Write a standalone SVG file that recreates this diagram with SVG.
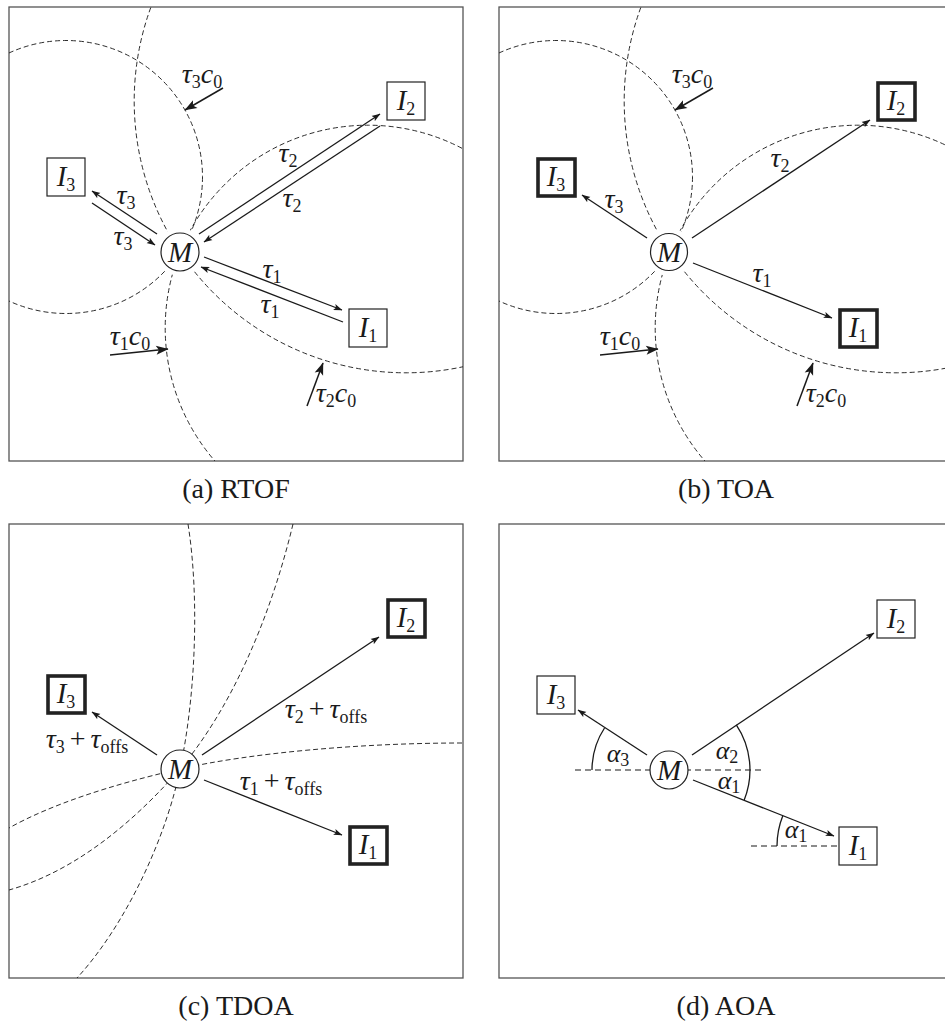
<svg xmlns="http://www.w3.org/2000/svg" width="945" height="1025" viewBox="0 0 945 1025">
  <style>
    .frame{fill:none;stroke:#555;stroke-width:1.3}
    .wave{fill:none;stroke:#222;stroke-width:0.95;stroke-dasharray:5 3}
    .ref{fill:none;stroke:#666;stroke-width:1.3;stroke-dasharray:6 4}
    .box{fill:#fff;stroke:#222;stroke-width:1.2}
    .bold{stroke-width:3.6}
    .mnode{fill:#fff;stroke:#222;stroke-width:1.2}
    .halo{fill:#fff;stroke:none}
    .link{fill:none;stroke:#1a1a1a;stroke-width:1.3;marker-end:url(#ah)}
    .range{fill:none;stroke:#1a1a1a;stroke-width:1.5;marker-end:url(#ahBig)}
    .angle{fill:none;stroke:#1a1a1a;stroke-width:1.3}
    .math{font-family:"Liberation Serif","Times New Roman",serif;font-style:italic;font-size:28px;fill:#1a1a1a}
    .nm{font-size:29px}
    .ang{font-size:26px}
    .sub{font-style:normal;font-size:18px}
    .up{font-style:normal}
    .cap{font-family:"Liberation Serif","Times New Roman",serif;font-size:28px;fill:#1a1a1a}
  </style>
  <defs>
    <marker id="ah" viewBox="0 0 10 8" refX="9.5" refY="4" markerWidth="9" markerHeight="7" markerUnits="userSpaceOnUse" orient="auto">
      <path d="M0,0.4 L10,4 L0,7.6 L2.2,4 z" fill="#1a1a1a"/>
    </marker>
    <marker id="ahBig" viewBox="0 0 10 8" refX="9.5" refY="4" markerWidth="13" markerHeight="10" markerUnits="userSpaceOnUse" orient="auto">
      <path d="M0,0.4 L10,4 L0,7.6 L2.2,4 z" fill="#1a1a1a"/>
    </marker>
    <clipPath id="clipA"><rect x="9" y="7" width="454" height="454"/></clipPath>
    <clipPath id="clipB"><rect x="499" y="7" width="454" height="454"/></clipPath>
    <clipPath id="clipC"><rect x="9" y="524" width="454" height="454"/></clipPath>
  </defs>

  <!-- ===== (a) RTOF ===== -->
  <g id="panel-a">
    <rect class="frame" x="9" y="7" width="454" height="454"/>
    <g id="a-ranges" clip-path="url(#clipA)">
      <circle class="wave" cx="368" cy="328" r="202.8"/>
      <circle class="wave" cx="406" cy="101" r="271.8"/>
      <circle class="wave" cx="66" cy="177" r="136.5"/>
    </g>
    <g id="a-connectors">
      <line class="link" x1="157" y1="234" x2="92" y2="191"/>
      <line class="link" x1="92" y1="203" x2="155" y2="245"/>
      <line class="link" x1="199" y1="234" x2="380" y2="114"/>
      <line class="link" x1="380" y1="126" x2="204" y2="242"/>
      <line class="link" x1="204" y1="257" x2="342" y2="310"/>
      <line class="link" x1="343" y1="322" x2="201" y2="267"/>
      <line class="range" x1="223" y1="88" x2="185" y2="110"/>
      <line class="range" x1="110" y1="355" x2="168" y2="349"/>
      <line class="range" x1="307" y1="406" x2="323" y2="363"/>
      <text class="math" x="126" y="204" text-anchor="middle">τ<tspan class="sub" dy="5">3</tspan></text>
      <text class="math" x="123" y="245" text-anchor="middle">τ<tspan class="sub" dy="5">3</tspan></text>
      <text class="math" x="288" y="162" text-anchor="middle">τ<tspan class="sub" dy="5">2</tspan></text>
      <text class="math" x="292" y="207" text-anchor="middle">τ<tspan class="sub" dy="5">2</tspan></text>
      <text class="math" x="272" y="278" text-anchor="middle">τ<tspan class="sub" dy="5">1</tspan></text>
      <text class="math" x="270" y="313" text-anchor="middle">τ<tspan class="sub" dy="5">1</tspan></text>
      <text class="math" x="202" y="83" text-anchor="middle">τ<tspan class="sub" dy="5">3</tspan><tspan dy="-5">c</tspan><tspan class="sub" dy="5">0</tspan></text>
      <text class="math" x="130" y="345" text-anchor="middle">τ<tspan class="sub" dy="5">1</tspan><tspan dy="-5">c</tspan><tspan class="sub" dy="5">0</tspan></text>
      <text class="math" x="336" y="402" text-anchor="middle">τ<tspan class="sub" dy="5">2</tspan><tspan dy="-5">c</tspan><tspan class="sub" dy="5">0</tspan></text>
    </g>
    <g id="a-M">
      <circle class="halo" cx="180" cy="252" r="24"/>
      <circle class="mnode" cx="180" cy="252" r="19"/>
      <text class="math nm" x="180" y="262" text-anchor="middle">M</text>
    </g>
    <g id="a-I1">
      <rect class="box" x="349" y="309" width="38" height="38"/>
      <text class="math nm" x="368" y="337" text-anchor="middle">I<tspan class="sub" dy="5">1</tspan></text>
    </g>
    <g id="a-I2">
      <rect class="box" x="387" y="82" width="38" height="38"/>
      <text class="math nm" x="406" y="110" text-anchor="middle">I<tspan class="sub" dy="5">2</tspan></text>
    </g>
    <g id="a-I3">
      <rect class="box" x="47" y="158" width="38" height="38"/>
      <text class="math nm" x="66" y="186" text-anchor="middle">I<tspan class="sub" dy="5">3</tspan></text>
    </g>
    <text class="cap" x="236" y="498" text-anchor="middle">(a) RTOF</text>
  </g>

  <!-- ===== (b) TOA ===== -->
  <g id="panel-b">
    <rect class="frame" x="499" y="7" width="454" height="454"/>
    <g id="b-ranges" clip-path="url(#clipB)">
      <circle class="wave" cx="858" cy="328" r="202.8"/>
      <circle class="wave" cx="896" cy="101" r="271.8"/>
      <circle class="wave" cx="556" cy="177" r="136.5"/>
    </g>
    <g id="b-connectors">
      <line class="link" x1="647" y1="238" x2="582" y2="195"/>
      <line class="link" x1="692" y1="238" x2="870" y2="120"/>
      <line class="link" x1="693" y1="263" x2="832" y2="318"/>
      <line class="range" x1="713" y1="88" x2="675" y2="110"/>
      <line class="range" x1="600" y1="355" x2="658" y2="349"/>
      <line class="range" x1="797" y1="406" x2="813" y2="363"/>
      <text class="math" x="614" y="208" text-anchor="middle">τ<tspan class="sub" dy="5">3</tspan></text>
      <text class="math" x="780" y="167" text-anchor="middle">τ<tspan class="sub" dy="5">2</tspan></text>
      <text class="math" x="762" y="282" text-anchor="middle">τ<tspan class="sub" dy="5">1</tspan></text>
      <text class="math" x="692" y="83" text-anchor="middle">τ<tspan class="sub" dy="5">3</tspan><tspan dy="-5">c</tspan><tspan class="sub" dy="5">0</tspan></text>
      <text class="math" x="620" y="345" text-anchor="middle">τ<tspan class="sub" dy="5">1</tspan><tspan dy="-5">c</tspan><tspan class="sub" dy="5">0</tspan></text>
      <text class="math" x="826" y="402" text-anchor="middle">τ<tspan class="sub" dy="5">2</tspan><tspan dy="-5">c</tspan><tspan class="sub" dy="5">0</tspan></text>
    </g>
    <g id="b-M">
      <circle class="halo" cx="669" cy="252" r="24"/>
      <circle class="mnode bold" cx="669" cy="252" r="18.5"/>
      <text class="math nm" x="669" y="262" text-anchor="middle">M</text>
    </g>
    <g id="b-I1">
      <rect class="box bold" x="840" y="310" width="37" height="37"/>
      <text class="math nm" x="858" y="337" text-anchor="middle">I<tspan class="sub" dy="5">1</tspan></text>
    </g>
    <g id="b-I2">
      <rect class="box bold" x="878" y="83" width="37" height="37"/>
      <text class="math nm" x="896" y="110" text-anchor="middle">I<tspan class="sub" dy="5">2</tspan></text>
    </g>
    <g id="b-I3">
      <rect class="box bold" x="538" y="159" width="37" height="37"/>
      <text class="math nm" x="556" y="186" text-anchor="middle">I<tspan class="sub" dy="5">3</tspan></text>
    </g>
    <text class="cap" x="726" y="498" text-anchor="middle">(b) TOA</text>
  </g>

  <!-- ===== (c) TDOA ===== -->
  <g id="panel-c">
    <rect class="frame" x="9" y="524" width="454" height="454"/>
    <g id="c-hyperbolas" clip-path="url(#clipC)">
      <path class="wave" d="M188,524 C200,600 195,700 180,769 C168,830 130,920 77,978"/>
      <path class="wave" d="M293,524 C270,620 230,710 180,769 C140,815 80,870 9,890"/>
      <path class="wave" d="M462,743 C360,743 250,753 180,769 C110,785 50,805 9,828"/>
    </g>
    <g id="c-connectors">
      <line class="link" x1="157" y1="755" x2="92" y2="712"/>
      <line class="link" x1="202" y1="755" x2="379" y2="637"/>
      <line class="link" x1="204" y1="780" x2="342" y2="835"/>
      <text class="math" x="87" y="748" text-anchor="middle">τ<tspan class="sub" dy="5">3</tspan><tspan class="up" dy="-5" dx="5">+</tspan><tspan dx="5">τ</tspan><tspan class="sub" dy="5">offs</tspan></text>
      <text class="math" x="326" y="718" text-anchor="middle">τ<tspan class="sub" dy="5">2</tspan><tspan class="up" dy="-5" dx="5">+</tspan><tspan dx="5">τ</tspan><tspan class="sub" dy="5">offs</tspan></text>
      <text class="math" x="281" y="790" text-anchor="middle">τ<tspan class="sub" dy="5">1</tspan><tspan class="up" dy="-5" dx="5">+</tspan><tspan dx="5">τ</tspan><tspan class="sub" dy="5">offs</tspan></text>
    </g>
    <g id="c-M">
      <circle class="mnode" cx="180" cy="769" r="19"/>
      <text class="math nm" x="180" y="779" text-anchor="middle">M</text>
    </g>
    <g id="c-I1">
      <rect class="box bold" x="350" y="827" width="37" height="37"/>
      <text class="math nm" x="368" y="854" text-anchor="middle">I<tspan class="sub" dy="5">1</tspan></text>
    </g>
    <g id="c-I2">
      <rect class="box bold" x="388" y="600" width="37" height="37"/>
      <text class="math nm" x="406" y="627" text-anchor="middle">I<tspan class="sub" dy="5">2</tspan></text>
    </g>
    <g id="c-I3">
      <rect class="box bold" x="48" y="676" width="37" height="37"/>
      <text class="math nm" x="66" y="703" text-anchor="middle">I<tspan class="sub" dy="5">3</tspan></text>
    </g>
    <text class="cap" x="236" y="1015" text-anchor="middle">(c) TDOA</text>
  </g>

  <!-- ===== (d) AOA ===== -->
  <g id="panel-d">
    <rect class="frame" x="499" y="524" width="454" height="454"/>
    <g id="d-references">
      <line class="ref" x1="575" y1="770" x2="762" y2="770"/>
      <line class="ref" x1="751" y1="846" x2="839" y2="846"/>
    </g>
    <g id="d-connectors">
      <line class="link" x1="647" y1="755" x2="578" y2="710"/>
      <line class="link" x1="692" y1="755" x2="874" y2="633"/>
      <line class="link" x1="693" y1="780" x2="834" y2="836"/>
      <path class="angle" d="M592,770 A77,77 0 0 1 604.5,728"/>
      <path class="angle" d="M736.3,724.9 A81,81 0 0 1 744.2,799.9"/>
      <path class="angle" d="M777,846 A82,82 0 0 1 782.8,815.7"/>
      <text class="math ang" x="618" y="762" text-anchor="middle">α<tspan class="sub" dy="4">3</tspan></text>
      <text class="math ang" x="727" y="759" text-anchor="middle">α<tspan class="sub" dy="4">2</tspan></text>
      <text class="math ang" x="729" y="789" text-anchor="middle">α<tspan class="sub" dy="4">1</tspan></text>
      <text class="math ang" x="796" y="838" text-anchor="middle">α<tspan class="sub" dy="4">1</tspan></text>
    </g>
    <g id="d-M">
      <circle class="mnode" cx="669" cy="770" r="19"/>
      <text class="math nm" x="669" y="780" text-anchor="middle">M</text>
    </g>
    <g id="d-I1">
      <rect class="box" x="839" y="827" width="38" height="38"/>
      <text class="math nm" x="858" y="855" text-anchor="middle">I<tspan class="sub" dy="5">1</tspan></text>
    </g>
    <g id="d-I2">
      <rect class="box" x="877" y="600" width="38" height="38"/>
      <text class="math nm" x="896" y="628" text-anchor="middle">I<tspan class="sub" dy="5">2</tspan></text>
    </g>
    <g id="d-I3">
      <rect class="box" x="537" y="676" width="38" height="38"/>
      <text class="math nm" x="556" y="704" text-anchor="middle">I<tspan class="sub" dy="5">3</tspan></text>
    </g>
    <text class="cap" x="726" y="1015" text-anchor="middle">(d) AOA</text>
  </g>
</svg>
